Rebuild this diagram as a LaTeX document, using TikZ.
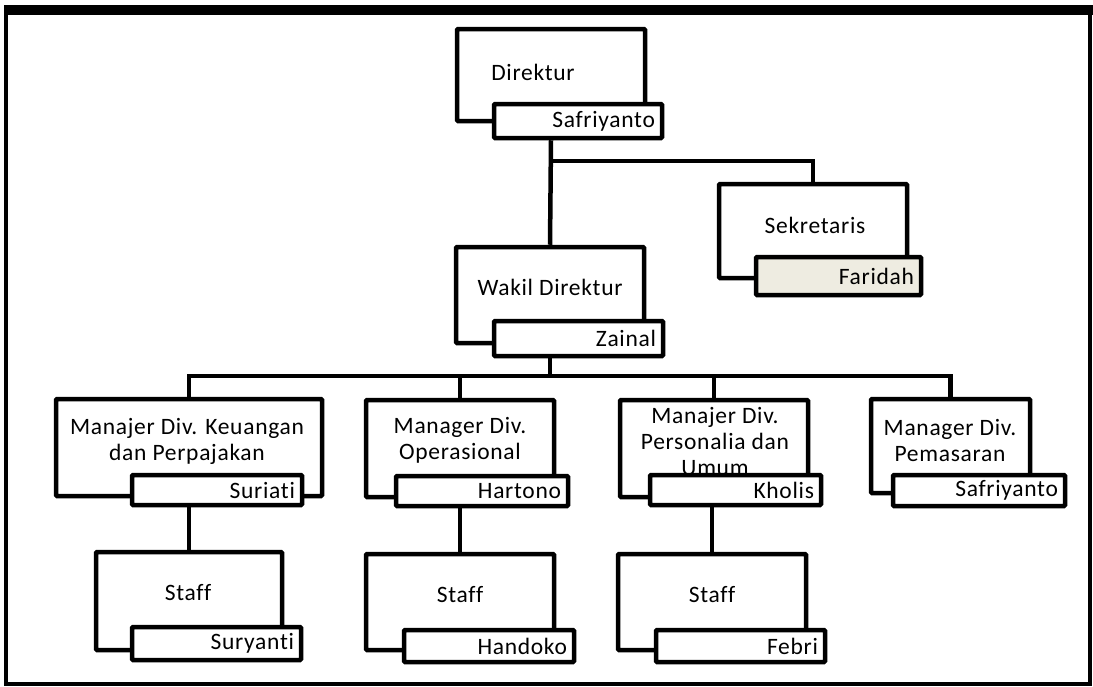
\documentclass[tikz,border=0pt]{standalone}
\usepackage{fontspec}
\setmainfont{Carlito}[LetterSpace=3, Ligatures=NoCommon]
\definecolor{faridah}{RGB}{238,236,225}

\begin{document}
\begin{tikzpicture}[
        x=1pt,
        y=-1pt,
        every node/.style={font=\fontsize{23.5}{26}\selectfont},
        post/.style={draw, line width=4.5pt, fill=white, rounded corners=1pt, inner sep=0pt},
        title/.style={align=center, inner sep=0pt},
        namebox/.style={draw, line width=4.5pt, fill=white, rounded corners=1pt, inner xsep=7pt, inner ysep=0pt, align=right},
        link/.style={line width=4.5pt}
    ]
    \useasboundingbox (0,0) rectangle (1093,686);
    % frame
    \draw[line width=4pt] (6,12) rectangle (1090,684);
    \draw[line width=10pt] (4,10) -- (1093,10);

    % direktur and sekretaris
    \node[post, minimum width=188, minimum height=92] (dir) at (551,75) {};
    \node[title] (dirT) at (533,72) {Direktur};
    \node[namebox, text width=154pt, minimum height=34] (dirN) at (578,121) {Safriyanto};

    \node[post, minimum width=188, minimum height=94] (sek) at (813,231) {};
    \node[title] (sekT) at (815,225) {Sekretaris};
    \node[namebox, fill=faridah, text width=151pt, minimum height=38] (sekN) at (838.5,276) {Faridah};

    \node[post, minimum width=188, minimum height=96] (wakil) at (550,295) {};
    \node[title] (wakilT) at (550,287) {Wakil Direktur};
    \node[namebox, text width=155pt, minimum height=35] (wakilN) at (578.5,338.5) {Zainal};

    % managers
    \node[post, minimum width=266, minimum height=97] (keu) at (189,447.5) {};
    \node[title] (keuT) at (187,441) {Manajer Div. Keuangan\\dan Perpajakan};
    \node[namebox, text width=156pt, minimum height=30] (keuN) at (217,490) {Suriati};

    \node[post, minimum width=188, minimum height=97] (ops) at (460,448.5) {};
    \node[title] (opsT) at (460,440) {Manager Div.\\Operasional};
    \node[namebox, text width=158pt, minimum height=30] (opsN) at (482,491) {Hartono};

    \node[post, minimum width=188, minimum height=97] (pers) at (714,448.5) {};
    \node[title] (persT) at (715,441) {Manajer Div.\\Personalia dan\\Umum};
    \node[namebox, text width=157pt, minimum height=30] (persN) at (735.5,490) {Kholis};

    \node[post, minimum width=159, minimum height=94] (pem) at (950.5,446) {};
    \node[title] (pemT) at (950,440) {Manager Div.\\Pemasaran};
    \node[namebox, text width=158pt, minimum height=31] (pemN) at (979,490.5) {Safriyanto};

    % staff
    \node[post, minimum width=186, minimum height=98] (stf1) at (189,601) {};
    \node[title] (stf1T) at (188,593) {Staff};
    \node[namebox, text width=155pt, minimum height=33] (stf1N) at (216.5,643.5) {Suryanti};

    \node[post, minimum width=188, minimum height=96] (stf2) at (460,602) {};
    \node[title] (stf2T) at (460,595) {Staff};
    \node[namebox, text width=156pt, minimum height=32] (stf2N) at (489,646) {Handoko};

    \node[post, minimum width=188, minimum height=96] (stf3) at (712,602) {};
    \node[title] (stf3T) at (712,595) {Staff};
    \node[namebox, text width=155pt, minimum height=32] (stf3N) at (740.5,646) {Febri};

    % connectors
    \coordinate (split) at (551,161);
    \coordinate (bus) at (550,376);
    \draw[link] (dirN.south -| dir.south) -- (wakil.north);
    \draw[link] (split) -| (sek.north);
    \draw[link] (wakilN.south -| wakil.south) -- (bus);
    \draw[link] (keu.north) |- (bus) -| (pem.north);
    \draw[link] (ops.north) -- (ops.north |- bus);
    \draw[link] (pers.north) -- (pers.north |- bus);
    \draw[link] (keuN.south -| stf1.north) -- (stf1.north);
    \draw[link] (opsN.south -| stf2.north) -- (stf2.north);
    \draw[link] (persN.south -| stf3.north) -- (stf3.north);
\end{tikzpicture}
\end{document}
